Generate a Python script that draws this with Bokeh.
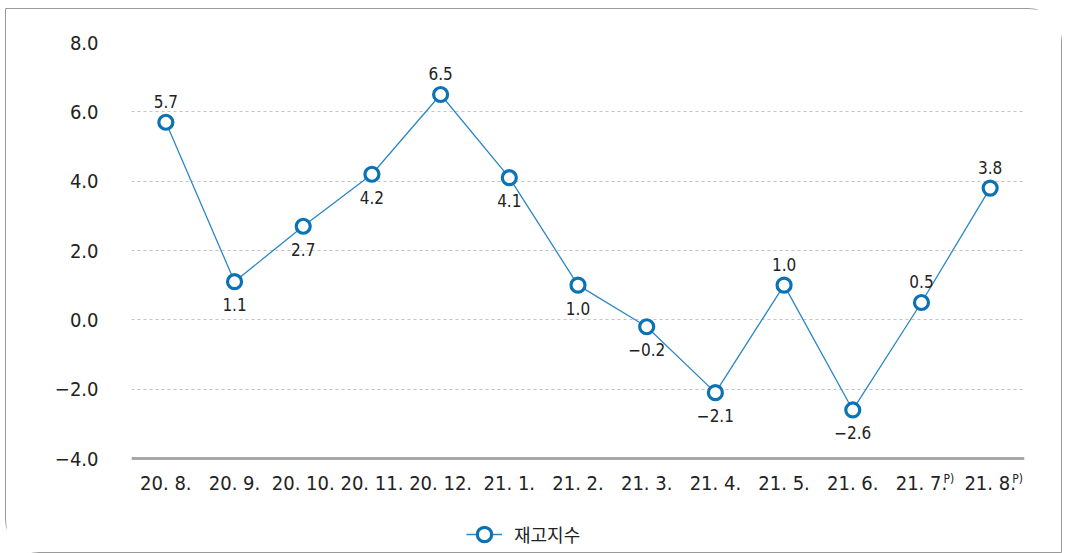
from bokeh.plotting import figure
from bokeh.models import (ColumnDataSource, Range1d, LabelSet, Legend, LegendItem,
                          FixedTicker)
from bokeh.core.properties import value
from bokeh.embed import file_html
from bokeh.resources import INLINE

categories = ["20. 8.", "20. 9.", "20. 10.", "20. 11.", "20. 12.", "21. 1.", "21. 2.",
              "21. 3.", "21. 4.", "21. 5.", "21. 6.", "21. 7.", "21. 8."]
values = [5.7, 1.1, 2.7, 4.2, 6.5, 4.1, 1.0, -0.2, -2.1, 1.0, -2.6, 0.5, 3.8]
label_above = [True, False, False, False, True, False, False, False, False, True, False, True, True]
prelim = ["21. 7.", "21. 8."]
prelim_mark = "P)"
y_ticks = [-4.0, -2.0, 0.0, 2.0, 4.0, 6.0, 8.0]
series_name = "재고지수"

FONT = "DejaVu Sans Condensed"
BLUE = "#0b72b4"
LINE = "#2b87c6"

def fmt(v):
    s = f"{abs(v):.1f}"
    return ("\u2212" + s) if v < 0 else s

W, H = 1057, 545
TOP, LEFT, RIGHT = 33, 125, 39
px_per_unit = 416 / 12.0
y_bottom = 8 - (H - TOP) / px_per_unit

p = figure(width=W, height=H, x_range=categories, y_range=Range1d(y_bottom, 8),
           output_backend="svg", toolbar_location=None,
           min_border_left=LEFT, min_border_right=RIGHT, min_border_top=TOP, min_border_bottom=0)
p.styles = {"border": "1px solid #9a9a9a", "border-radius": "0px 34px 0px 34px",
            "box-sizing": "border-box", "margin-left": "5px", "margin-top": "8px"}
p.outline_line_color = None
p.background_fill_color = "white"

src = ColumnDataSource(dict(
    x=categories, y=values,
    lab=[fmt(v) for v in values],
    off=[21 if a else -23 for a in label_above],
))

ln = p.line("x", "y", source=src, line_color=LINE, line_width=1.3)
sc = p.scatter("x", "y", source=src, size=14, fill_color="white",
               line_color=BLUE, line_width=3.2)

labels = LabelSet(x="x", y="y", text="lab", y_offset="off", source=src,
                  text_align="center", text_baseline="middle",
                  text_font=value(FONT), text_font_size="17px", text_color="#222222")
p.add_layout(labels)

# y axis
p.yaxis.ticker = FixedTicker(ticks=y_ticks)
p.yaxis.major_label_overrides = {t: fmt(t) for t in y_ticks}
p.yaxis.axis_line_color = None
p.yaxis.major_tick_line_color = None
p.yaxis.minor_tick_line_color = None
p.yaxis.major_label_standoff = 27
p.yaxis.major_label_text_font = FONT
p.yaxis.major_label_text_font_size = "20px"
p.yaxis.major_label_text_color = "#222222"

# x axis, drawn at y = -4 inside the frame
p.xaxis.fixed_location = -4.0
p.xaxis.axis_line_color = "#a8a8a8"
p.xaxis.axis_line_width = 3
p.xaxis.major_tick_line_color = None
p.xaxis.minor_tick_line_color = None
p.xaxis.major_label_standoff = 6
p.xaxis.major_label_text_font = FONT
p.xaxis.major_label_text_font_size = "20px"
p.xaxis.major_label_text_color = "#222222"

# superscript "P)" marks after the preliminary months
psrc = ColumnDataSource(dict(x=prelim, y=[-4.0] * len(prelim), t=[prelim_mark] * len(prelim)))
plab = LabelSet(x="x", y="y", text="t", source=psrc, x_offset=22, y_offset=-13,
                text_align="left", text_baseline="top",
                text_font=value(FONT), text_font_size="12px", text_color="#222222")
p.add_layout(plab)

p.xgrid.grid_line_color = None
p.ygrid.ticker = FixedTicker(ticks=[-2.0, 0.0, 2.0, 4.0, 6.0, 8.0])
p.ygrid.grid_line_color = "#c4c4c4"
p.ygrid.grid_line_dash = "3 3"
p.ygrid.grid_line_width = 1

legend = Legend(items=[LegendItem(label=series_name, renderers=[ln, sc])],
                orientation="horizontal", location=(335, 2),
                label_text_font="Noto Sans CJK KR", label_text_font_size="18px",
                label_text_color="#222222", glyph_width=36, glyph_height=36,
                border_line_color=None, background_fill_alpha=0,
                margin=0, padding=2, label_standoff=12)
p.add_layout(legend)

open("out.html", "w").write(file_html(p, INLINE))
